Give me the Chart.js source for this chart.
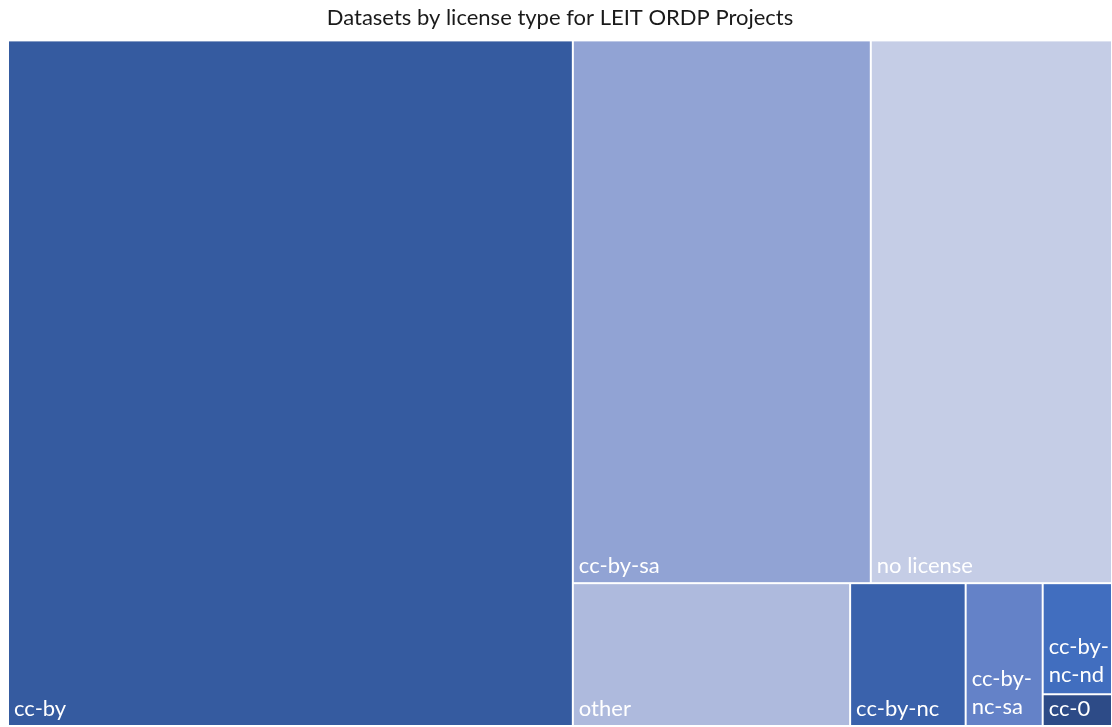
<!DOCTYPE html>
<html>
<head>
<meta charset="utf-8">
<script src="https://cdn.jsdelivr.net/npm/chart.js@4.4.1/dist/chart.umd.min.js"></script>
<style>
  html, body { margin: 0; padding: 0; background: #ffffff; }
  #wrap { width: 1112px; height: 727px; position: relative; }
</style>
</head>
<body>
<div id="wrap"><canvas id="chart"></canvas></div>
<script>
// ---- data ----
const chartTitle = 'Datasets by license type for LEIT ORDP Projects';
const licenseTypes = ['cc-by', 'cc-by-sa', 'no license', 'other', 'cc-by-nc', 'cc-by-nc-sa', 'cc-by-nc-nd', 'cc-0'];
const datasetCounts = [352, 147, 119, 36, 15, 10, 7, 2];

// ---- styles ----
const cellColors = ['#355BA0', '#91A3D4', '#C5CDE6', '#AEBADD', '#3A62AC', '#6482C8', '#416EBF', '#2D4B87'];

// Squarified layout in value space [0,1]x[0,1]; kx/ky = pixels per unit so aspect is judged in pixels.
function squarify(values, kx, ky, ratio) {
  const n = values.length;
  const rects = new Array(n);
  let x0 = 0, y0 = 0, x1 = 1, y1 = 1;
  let remaining = values.reduce((a, b) => a + b, 0);
  let i0 = 0;
  while (i0 < n) {
    const wPx = (x1 - x0) * kx, hPx = (y1 - y0) * ky;
    const column = wPx >= hPx;
    const perValue = wPx * hPx / remaining;
    const stripLen = column ? hPx : wPx;
    const score = (from, to) => {
      let sum = 0;
      for (let k = from; k < to; k++) sum += values[k];
      const thick = sum * perValue / stripLen;
      let worst = 0;
      for (let k = from; k < to; k++) {
        const len = values[k] * perValue / thick;
        const w = column ? thick : len, h = column ? len : thick;
        worst = Math.max(worst, ratio * w / h, h / (ratio * w));
      }
      return worst;
    };
    let i1 = i0 + 1;
    let best = score(i0, i1);
    while (i1 < n) {
      const s = score(i0, i1 + 1);
      if (s > best) break;
      best = s; i1++;
    }
    let sum = 0;
    for (let k = i0; k < i1; k++) sum += values[k];
    const frac = i1 === n ? 1 : sum / remaining;
    if (column) {
      const xm = x0 + (x1 - x0) * frac;
      let yy = y0;
      for (let k = i0; k < i1; k++) {
        const yn = k === i1 - 1 ? y1 : yy + (y1 - y0) * values[k] / sum;
        rects[k] = { x0: x0, x1: xm, y0: yy, y1: yn };
        yy = yn;
      }
      x0 = xm;
    } else {
      const ym = y0 + (y1 - y0) * frac;
      let xx = x0;
      for (let k = i0; k < i1; k++) {
        const xn = k === i1 - 1 ? x1 : xx + (x1 - x0) * values[k] / sum;
        rects[k] = { x0: xx, x1: xn, y0: y0, y1: ym };
        xx = xn;
      }
      y0 = ym;
    }
    remaining -= sum;
    i0 = i1;
  }
  return rects;
}

class TreemapCell extends Chart.Element {
  static id = 'treemapCell';
  static defaults = {
    backgroundColor: undefined,
    spacing: 1,
    labelColor: '#ffffff',
    labelFont: 'Lato',
    labelSize: 22,
    labelPadding: 6
  };
  constructor(cfg) {
    super();
    this.options = undefined;
    this.x = undefined; this.y = undefined;
    this.width = undefined; this.height = undefined;
    this.label = '';
    if (cfg) Object.assign(this, cfg);
  }
  draw(ctx) {
    const o = this.options;
    const s = o.spacing;
    const x = this.x, y = this.y, w = this.width, h = this.height;
    ctx.save();
    ctx.fillStyle = o.backgroundColor;
    ctx.fillRect(x + s, y + s, w - 2 * s, h - 2 * s);
    // label, bottom-left, wrapped at hyphens when too wide
    ctx.font = o.labelSize + 'px ' + o.labelFont;
    ctx.fillStyle = o.labelColor;
    ctx.textAlign = 'left';
    ctx.textBaseline = 'alphabetic';
    const maxW = w - o.labelPadding;
    const lines = [];
    if (ctx.measureText(this.label).width <= maxW) {
      lines.push(this.label);
    } else {
      const parts = this.label.match(/[^-\s]+[-\s]?/g) || [this.label];
      let cur = '';
      for (const p of parts) {
        const t = cur + p;
        if (cur && ctx.measureText(t.trimEnd()).width > maxW) { lines.push(cur.trimEnd()); cur = p; }
        else cur = t;
      }
      if (cur) lines.push(cur.trimEnd());
    }
    const lineH = 28;
    const baseY = y + h - (lines.length > 1 ? 12 : 10);
    for (let i = 0; i < lines.length; i++) {
      ctx.fillText(lines[i], x + o.labelPadding, baseY - (lines.length - 1 - i) * lineH);
    }
    ctx.restore();
  }
  inRange(mx, my) {
    return mx >= this.x && mx <= this.x + this.width && my >= this.y && my <= this.y + this.height;
  }
  inXRange(mx) { return mx >= this.x && mx <= this.x + this.width; }
  inYRange(my) { return my >= this.y && my <= this.y + this.height; }
  getCenterPoint() { return { x: this.x + this.width / 2, y: this.y + this.height / 2 }; }
  tooltipPosition() { return this.getCenterPoint(); }
}

class TreemapController extends Chart.DatasetController {
  static id = 'treemapLite';
  static defaults = {
    dataElementType: 'treemapCell',
    datasetElementType: false,
    squareRatio: 1.5
  };
  static overrides = {
    scales: {
      x: { type: 'linear', min: 0, max: 1, display: false },
      y: { type: 'linear', min: 0, max: 1, reverse: true, display: false }
    }
  };
  parse(start, count) {
    const meta = this._cachedMeta;
    const data = this.getDataset().data;
    for (let i = start; i < start + count; i++) {
      meta._parsed[i] = { x: 0, y: 0, v: +data[i] };
    }
  }
  getMinMax() { return { min: 0, max: 1 }; }
  getLabelAndValue(index) {
    return { label: this.chart.data.labels[index], value: String(this._cachedMeta._parsed[index].v) };
  }
  update(mode) {
    const meta = this._cachedMeta;
    this.updateElements(meta.data, 0, meta.data.length, mode);
  }
  updateElements(elems, start, count, mode) {
    const meta = this._cachedMeta;
    const xs = meta.xScale, ys = meta.yScale;
    const values = meta._parsed.map(p => p.v);
    const kx = Math.abs(xs.getPixelForValue(1) - xs.getPixelForValue(0));
    const ky = Math.abs(ys.getPixelForValue(1) - ys.getPixelForValue(0));
    const ratio = this.getDataset().squareRatio || 1.5;
    const rects = squarify(values, kx, ky, ratio);
    const labels = this.chart.data.labels;
    for (let i = start; i < start + count; i++) {
      const r = rects[i];
      const left = xs.getPixelForValue(r.x0), right = xs.getPixelForValue(r.x1);
      const top = ys.getPixelForValue(r.y0), bottom = ys.getPixelForValue(r.y1);
      const props = {
        x: Math.min(left, right), y: Math.min(top, bottom),
        width: Math.abs(right - left), height: Math.abs(bottom - top),
        label: labels[i],
        options: this.resolveDataElementOptions(i, mode)
      };
      this.updateElement(elems[i], i, props, mode);
    }
  }
  draw() {
    const ctx = this.chart.ctx;
    for (const el of this._cachedMeta.data) el.draw(ctx);
  }
}

Chart.register(TreemapCell, TreemapController);

new Chart(document.getElementById('chart'), {
  type: 'treemapLite',
  data: {
    labels: licenseTypes,
    datasets: [{
      label: 'Datasets',
      data: datasetCounts,
      backgroundColor: cellColors,
      squareRatio: 1.5
    }]
  },
  options: {
    responsive: true,
    maintainAspectRatio: false,
    animation: false,
    layout: { padding: { left: 8, right: 0, top: 0, bottom: 1 } },
    plugins: {
      legend: { display: false },
      title: {
        display: true,
        text: chartTitle,
        color: '#1a1a1a',
        font: { family: 'Lato', size: 22, weight: 'normal', lineHeight: 1.2 },
        padding: { top: 5, bottom: 9 }
      },
      tooltip: { enabled: true }
    }
  }
});
</script>
</body>
</html>
